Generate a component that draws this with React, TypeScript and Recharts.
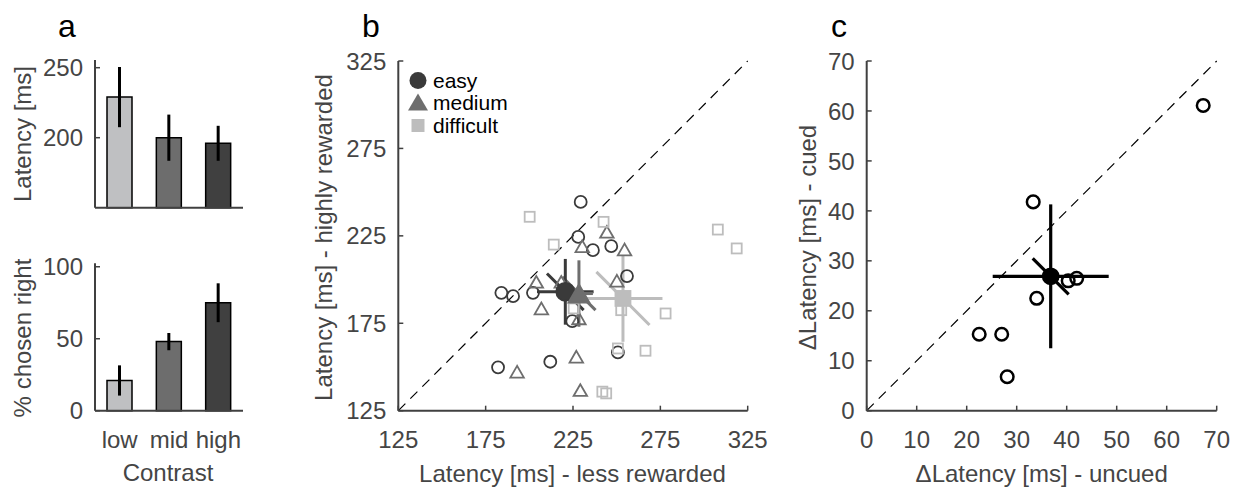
import React from "react";
import {
  Bar,
  BarChart,
  Cell,
  ErrorBar,
  Label,
  Legend,
  ReferenceLine,
  Scatter,
  ScatterChart,
  XAxis,
  YAxis,
} from "recharts";

const FONT = '"Liberation Sans", Arial, Helvetica, sans-serif';
const AXIS = "#404040";
const TEXT = "#454545";
const TICK_FONT = 24;

// panel a: latency and choice per contrast level
const contrastLevels = ["low", "mid", "high"];
const latencyMean = [229, 200, 196];
const latencyErr = [21.5, 16.5, 12.5];
const chosenRightMean = [21, 48, 75];
const chosenRightErr = [10.5, 6, 13.5];
const contrastColors = ["#bfc0c2", "#6d6d6d", "#404040"];

// panel b: per-session latencies (less rewarded vs highly rewarded)
const easyX = [229.4, 228, 236.4, 246.9, 255.9, 184, 190.7, 202.1, 224.6, 250.7, 212, 182.1];
const easyY = [244.4, 224.4, 216.8, 219.1, 202, 192.4, 190.5, 192.4, 176.2, 158.3, 153, 149.8];
const mediumX = [244.4, 230.3, 254.5, 204, 250.1, 206.9, 228.4, 226.9, 193, 229.2, 218.3];
const mediumY = [227.3, 219.1, 217.2, 198.7, 199.3, 183.5, 177.8, 155.9, 147.3, 136.8, 198.7];
const difficultX = [200.2, 242.5, 214, 307.9, 318.7, 225.4, 252.6, 278, 250.7, 266.5, 241.8, 244];
const difficultY = [235.9, 233, 220, 228.6, 217.8, 183.5, 182.5, 180.6, 160.6, 159.3, 135.9, 134.9];

const groupNames = ["easy", "medium", "difficult"];
const groupMeanX = [220.6, 228.4, 253.6];
const groupMeanY = [193, 192, 189.2];
const groupSemX = [16.2, 8, 22.6];
const groupSemY = [18.8, 19, 24.8];
const groupSemDiff = [10.5, 9.5, 15.2];
const groupColors = ["#3a3a3a", "#6e6e6e", "#bdbdbd"];

const latencyTicks = [125, 175, 225, 275, 325];

// panel c: latency difference, uncued vs cued
const uncuedDelta = [67.3, 33.3, 34, 40.3, 42, 22.5, 27, 28.1];
const cuedDelta = [61.1, 41.8, 22.5, 26, 26.5, 15.3, 15.3, 6.8];
const deltaMean = [36.8, 26.9];
const deltaSem = [11.6, 14.4];
const deltaSemDiff = 3.6;
const deltaTicks = [0, 10, 20, 30, 40, 50, 60, 70];

const toPoints = (xs: number[], ys: number[]) => xs.map((x, i) => ({ x, y: ys[i] }));

function LeftTick({ x, y, payload }: any) {
  return (
    <g>
      <line x1={x} x2={x + 5} y1={y} y2={y} stroke={AXIS} strokeWidth={1.5} />
      <text x={x - 12} y={y} dy="0.36em" textAnchor="end" fontSize={TICK_FONT} fill={TEXT} fontFamily={FONT}>
        {payload.value}
      </text>
    </g>
  );
}

function BottomTick({ x, y, payload, noMark }: any) {
  return (
    <g>
      {!noMark && <line x1={x} x2={x} y1={y} y2={y - 5} stroke={AXIS} strokeWidth={1.5} />}
      <text x={x} y={y + 28.5} dy="0.36em" textAnchor="middle" fontSize={TICK_FONT} fill={TEXT} fontFamily={FONT}>
        {payload.value}
      </text>
    </g>
  );
}

function yTitle(text: string, x: number, y: number) {
  return () => (
    <text x={x} y={y} transform={`rotate(-90, ${x}, ${y})`} textAnchor="middle" fontSize={24} fill={TEXT} fontFamily={FONT}>
      {text}
    </text>
  );
}

function xTitle(text: string, x: number, y: number) {
  return () => (
    <text x={x} y={y} textAnchor="middle" fontSize={24} fill={TEXT} fontFamily={FONT}>
      {text}
    </text>
  );
}

const circle = (r: number, color: string, filled: boolean, sw = 1.8) => (p: any) => (
  <circle cx={p.cx} cy={p.cy} r={r} fill={filled ? color : "none"} stroke={color} strokeWidth={sw} />
);

const triangle = (w: number, color: string, filled: boolean) => (p: any) => {
  const h = w * 0.87;
  const pts = `${p.cx},${p.cy - h / 2} ${p.cx - w / 2},${p.cy + h / 2} ${p.cx + w / 2},${p.cy + h / 2}`;
  return <polygon points={pts} fill={filled ? color : "none"} stroke={color} strokeWidth={1.8} />;
};

const square = (s: number, color: string, filled: boolean) => (p: any) => (
  <rect x={p.cx - s / 2} y={p.cy - s / 2} width={s} height={s} fill={filled ? color : "none"} stroke={color} strokeWidth={1.8} />
);

const meanShapes = [circle(9, groupColors[0], true), triangle(21, groupColors[1], true), square(15, groupColors[2], true)];

function GroupLegend() {
  const ys = [12.5, 34.5, 57.5];
  const marks = [
    <circle key="c" cx={10} cy={ys[0]} r={8.5} fill={groupColors[0]} />,
    <polygon key="t" points={`10,${ys[1] - 9} 0,${ys[1] + 8} 20,${ys[1] + 8}`} fill={groupColors[1]} />,
    <rect key="s" x={3.5} y={ys[2] - 6.5} width={13} height={13} fill={groupColors[2]} />,
  ];
  return (
    <svg width={140} height={72}>
      {groupNames.map((name, i) => (
        <g key={name}>
          {marks[i]}
          <text x={25} y={ys[i]} dy="0.36em" fontSize={21} fill="#000" fontFamily={FONT}>
            {name}
          </text>
        </g>
      ))}
    </svg>
  );
}

export default function App() {
  const latencyData = contrastLevels.map((name, i) => ({ name, value: latencyMean[i], err: latencyErr[i] }));
  const choiceData = contrastLevels.map((name, i) => ({ name, value: chosenRightMean[i], err: chosenRightErr[i] }));
  const groupPoints = [toPoints(easyX, easyY), toPoints(mediumX, mediumY), toPoints(difficultX, difficultY)];
  const groupShapes = [circle(6, groupColors[0], false), triangle(13.5, groupColors[1], false), square(10, groupColors[2], false)];
  const cuedPoints = toPoints(uncuedDelta, cuedDelta);

  const panelLetter = (t: string, left: number) => (
    <div style={{ position: "absolute", left, top: 3, fontFamily: FONT, fontSize: 32, lineHeight: "46px", color: "#000" }}>{t}</div>
  );

  return (
    <div style={{ position: "absolute", left: 0, top: 0, width: 1246, height: 487, background: "#fff", fontFamily: FONT }}>
      {panelLetter("a", 58)}
      {panelLetter("b", 362)}
      {panelLetter("c", 831)}

      {/* panel a, top */}
      <div style={{ position: "absolute", left: 0, top: 0 }}>
        <BarChart width={248} height={215} data={latencyData} margin={{ top: 60, right: 5, bottom: 0, left: 35 }}>
          <XAxis dataKey="name" height={7.3} tick={false} tickLine={false} axisLine={{ stroke: AXIS, strokeWidth: 2 }} />
          <YAxis
            type="number"
            domain={[150, 255.5]}
            ticks={[150, 200, 250]}
            width={60}
            tickSize={0}
            tickMargin={0}
            tick={<LeftTick />}
            axisLine={{ stroke: AXIS, strokeWidth: 2 }}
          >
            <Label content={yTitle("Latency [ms]", 31, 134)} />
          </YAxis>
          <Bar dataKey="value" barSize={25} stroke="#000" strokeWidth={1.5} isAnimationActive={false}>
            {latencyData.map((d, i) => (
              <Cell key={d.name} fill={contrastColors[i]} />
            ))}
            <ErrorBar dataKey="err" width={0} stroke="#000" strokeWidth={3} />
          </Bar>
        </BarChart>
      </div>

      {/* panel a, bottom */}
      <div style={{ position: "absolute", left: 0, top: 0 }}>
        <BarChart width={248} height={487} data={choiceData} margin={{ top: 263.3, right: 5, bottom: 0, left: 35 }}>
          <XAxis
            dataKey="name"
            height={76.3}
            tickSize={0}
            tickMargin={0}
            tick={<BottomTick noMark />}
            axisLine={{ stroke: AXIS, strokeWidth: 2 }}
          >
            <Label content={xTitle("Contrast", 168, 481)} />
          </XAxis>
          <YAxis
            type="number"
            domain={[0, 102.4]}
            ticks={[0, 50, 100]}
            width={60}
            tickSize={0}
            tickMargin={0}
            tick={<LeftTick />}
            axisLine={{ stroke: AXIS, strokeWidth: 2 }}
          >
            <Label content={yTitle("% chosen right", 31, 338)} />
          </YAxis>
          <Bar dataKey="value" barSize={25} stroke="#000" strokeWidth={1.5} isAnimationActive={false}>
            {choiceData.map((d, i) => (
              <Cell key={d.name} fill={contrastColors[i]} />
            ))}
            <ErrorBar dataKey="err" width={0} stroke="#000" strokeWidth={3} />
          </Bar>
        </BarChart>
      </div>

      {/* panel b */}
      <div style={{ position: "absolute", left: 300, top: 0 }}>
        <ScatterChart width={470} height={487} margin={{ top: 61, right: 22.3, bottom: 0, left: 38.3 }}>
          <XAxis
            type="number"
            dataKey="x"
            domain={[125, 325]}
            ticks={latencyTicks}
            height={76.3}
            tickSize={0}
            tickMargin={0}
            tick={<BottomTick />}
            axisLine={{ stroke: AXIS, strokeWidth: 2 }}
          >
            <Label content={xTitle("Latency [ms] - less rewarded", 272.5, 481.5)} />
          </XAxis>
          <YAxis
            type="number"
            dataKey="y"
            domain={[125, 325]}
            ticks={latencyTicks}
            width={60}
            tickSize={0}
            tickMargin={0}
            tick={<LeftTick />}
            axisLine={{ stroke: AXIS, strokeWidth: 2 }}
          >
            <Label content={yTitle("Latency [ms] - highly rewarded", 32, 237.5)} />
          </YAxis>
          <ReferenceLine
            segment={[
              { x: 125, y: 125 },
              { x: 325, y: 325 },
            ]}
            stroke="#000"
            strokeWidth={1.2}
            strokeDasharray="10 7"
          />
          {groupPoints.map((pts, i) => (
            <Scatter key={groupNames[i]} name={groupNames[i]} data={pts} shape={groupShapes[i]} isAnimationActive={false} />
          ))}
          {groupNames.map((name, i) => (
            <ReferenceLine
              key={`diag-${name}`}
              segment={[
                { x: groupMeanX[i] - groupSemDiff[i], y: groupMeanY[i] + groupSemDiff[i] },
                { x: groupMeanX[i] + groupSemDiff[i], y: groupMeanY[i] - groupSemDiff[i] },
              ]}
              stroke={groupColors[i]}
              strokeWidth={3}
            />
          ))}
          {groupNames.map((name, i) => (
            <Scatter
              key={`mean-${name}`}
              data={[{ x: groupMeanX[i], y: groupMeanY[i], ex: groupSemX[i], ey: groupSemY[i] }]}
              shape={meanShapes[i]}
              isAnimationActive={false}
            >
              <ErrorBar dataKey="ex" direction="x" width={0} stroke={groupColors[i]} strokeWidth={3} />
              <ErrorBar dataKey="ey" direction="y" width={0} stroke={groupColors[i]} strokeWidth={3} />
            </Scatter>
          ))}
          <Legend
            layout="horizontal"
            verticalAlign="middle"
            align="center"
            wrapperStyle={{ left: 108, top: 68, width: 140, height: 72 }}
            content={() => <GroupLegend />}
          />
        </ScatterChart>
      </div>

      {/* panel c */}
      <div style={{ position: "absolute", left: 780, top: 0 }}>
        <ScatterChart width={466} height={487} margin={{ top: 61, right: 29.3, bottom: 0, left: 26.7 }}>
          <XAxis
            type="number"
            dataKey="x"
            domain={[0, 70]}
            ticks={deltaTicks}
            height={76.3}
            tickSize={0}
            tickMargin={0}
            tick={<BottomTick />}
            axisLine={{ stroke: AXIS, strokeWidth: 2 }}
          >
            <Label content={xTitle("\u0394Latency [ms] - uncued", 261.7, 481.5)} />
          </XAxis>
          <YAxis
            type="number"
            dataKey="y"
            domain={[0, 70]}
            ticks={deltaTicks}
            width={60}
            tickSize={0}
            tickMargin={0}
            tick={<LeftTick />}
            axisLine={{ stroke: AXIS, strokeWidth: 2 }}
          >
            <Label content={yTitle("\u0394Latency [ms] - cued", 36, 237.5)} />
          </YAxis>
          <ReferenceLine
            segment={[
              { x: 0, y: 0 },
              { x: 70, y: 70 },
            ]}
            stroke="#000"
            strokeWidth={1.2}
            strokeDasharray="10 7"
          />
          <Scatter data={cuedPoints} shape={circle(6.3, "#000", false, 2.5)} isAnimationActive={false} />
          <ReferenceLine
            segment={[
              { x: deltaMean[0] - deltaSemDiff, y: deltaMean[1] + deltaSemDiff },
              { x: deltaMean[0] + deltaSemDiff, y: deltaMean[1] - deltaSemDiff },
            ]}
            stroke="#000"
            strokeWidth={3.2}
          />
          <Scatter
            data={[{ x: deltaMean[0], y: deltaMean[1], ex: deltaSem[0], ey: deltaSem[1] }]}
            shape={circle(8, "#000", true)}
            isAnimationActive={false}
          >
            <ErrorBar dataKey="ex" direction="x" width={0} stroke="#000" strokeWidth={3.2} />
            <ErrorBar dataKey="ey" direction="y" width={0} stroke="#000" strokeWidth={3.2} />
          </Scatter>
        </ScatterChart>
      </div>
    </div>
  );
}
